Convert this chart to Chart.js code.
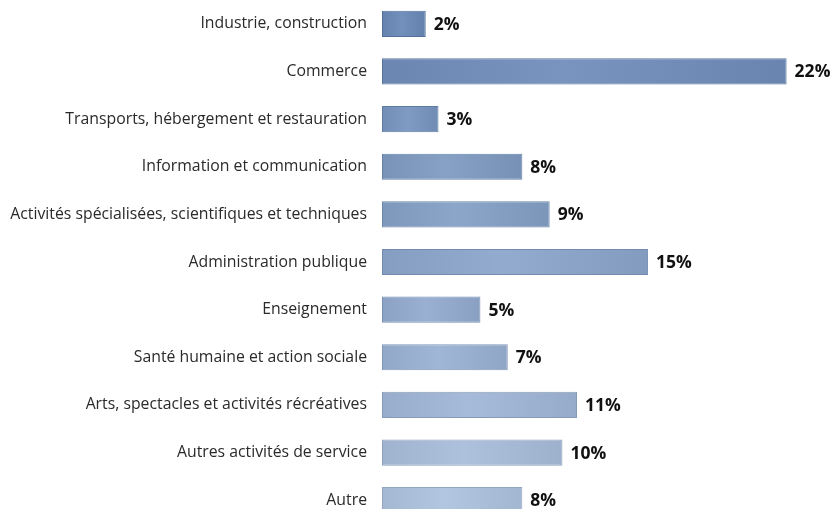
<!DOCTYPE html>
<html>
<head>
<meta charset="utf-8">
<script src="https://cdn.jsdelivr.net/npm/chart.js@4.4.1/dist/chart.umd.min.js"></script>
<style>
  html, body { margin: 0; padding: 0; background: #fff; overflow: hidden; }
  /* the axis keeps 24px above and below the plot for its labels; pull it up so the
     last row runs off the bottom edge like in the original */
  #wrap { width: 834px; height: 572px; margin-top: -24px; }
</style>
</head>
<body>
<div id="wrap"><canvas id="myChart"></canvas></div>
<script>
// categories and values (share in %)
var categories = [
  'Industrie, construction',
  'Commerce',
  'Transports, hébergement et restauration',
  'Information et communication',
  'Activités spécialisées, scientifiques et techniques',
  'Administration publique',
  'Enseignement',
  'Santé humaine et action sociale',
  'Arts, spectacles et activités récréatives',
  'Autres activités de service',
  'Autre'
];
var shares = [2.4, 22.2, 3.1, 7.7, 9.2, 14.6, 5.4, 6.9, 10.7, 9.9, 7.7];
var shareLabels = ['2%', '22%', '3%', '8%', '9%', '15%', '5%', '7%', '11%', '10%', '8%'];

// bar colours go from a darker blue at the top to a pale blue at the bottom
var topColor = [100, 130, 173];
var bottomColor = [165, 184, 211];

function mix(a, b, t) {
  return [0, 1, 2].map(function (k) { return Math.round(a[k] + (b[k] - a[k]) * t); });
}
function rgb(c, lift) {
  lift = lift || 0;
  return 'rgb(' + c.map(function (v) { return Math.max(0, Math.min(255, v + lift)); }).join(',') + ')';
}
function baseColor(i) {
  return mix(topColor, bottomColor, i / (categories.length - 1));
}

var ctx = document.getElementById('myChart').getContext('2d');

var valueLabels = {
  id: 'valueLabels',
  afterDatasetsDraw: function (chart) {
    var meta = chart.getDatasetMeta(0);
    var c = chart.ctx;
    c.save();
    c.font = 'bold 17.5px "Open Sans"';
    c.fillStyle = '#111';
    c.textAlign = 'left';
    c.textBaseline = 'middle';
    meta.data.forEach(function (bar, i) {
      c.fillText(shareLabels[i], bar.x + 8, bar.y + 1);
    });
    c.restore();
  }
};

var myChart = new Chart(ctx, {
  type: 'bar',
  data: {
    labels: categories,
    datasets: [{
      data: shares,
      backgroundColor: function (context) {
        var i = context.dataIndex;
        var base = baseColor(i);
        var xs = context.chart.scales.x;
        if (!xs || context.raw === undefined) return rgb(base);
        var x0 = xs.getPixelForValue(0);
        var x1 = xs.getPixelForValue(context.raw);
        if (!isFinite(x0) || !isFinite(x1) || x1 <= x0) return rgb(base);
        var g = context.chart.ctx.createLinearGradient(x0, 0, x1, 0);
        g.addColorStop(0, rgb(base));
        g.addColorStop(0.45, rgb(base, 14));
        g.addColorStop(1, rgb(base, -2));
        return g;
      },
      borderColor: function (context) {
        return rgb(baseColor(context.dataIndex), -18);
      },
      borderWidth: 1,
      borderSkipped: false,
      barPercentage: 0.55,
      categoryPercentage: 1
    }]
  },
  options: {
    indexAxis: 'y',
    responsive: true,
    maintainAspectRatio: false,
    animation: false,
    plugins: {
      legend: { display: false },
      tooltip: { enabled: false }
    },
    scales: {
      x: {
        display: false,
        min: 0,
        max: 24.8
      },
      y: {
        grid: { display: false, drawTicks: false },
        border: { display: false },
        ticks: {
          padding: 15,
          color: '#2a2a2a',
          font: { family: 'Open Sans', size: 15.8, lineHeight: '18px' }
        },
        afterFit: function (scale) { scale.width = 382; }
      }
    }
  },
  plugins: [valueLabels]
});
</script>
</body>
</html>
